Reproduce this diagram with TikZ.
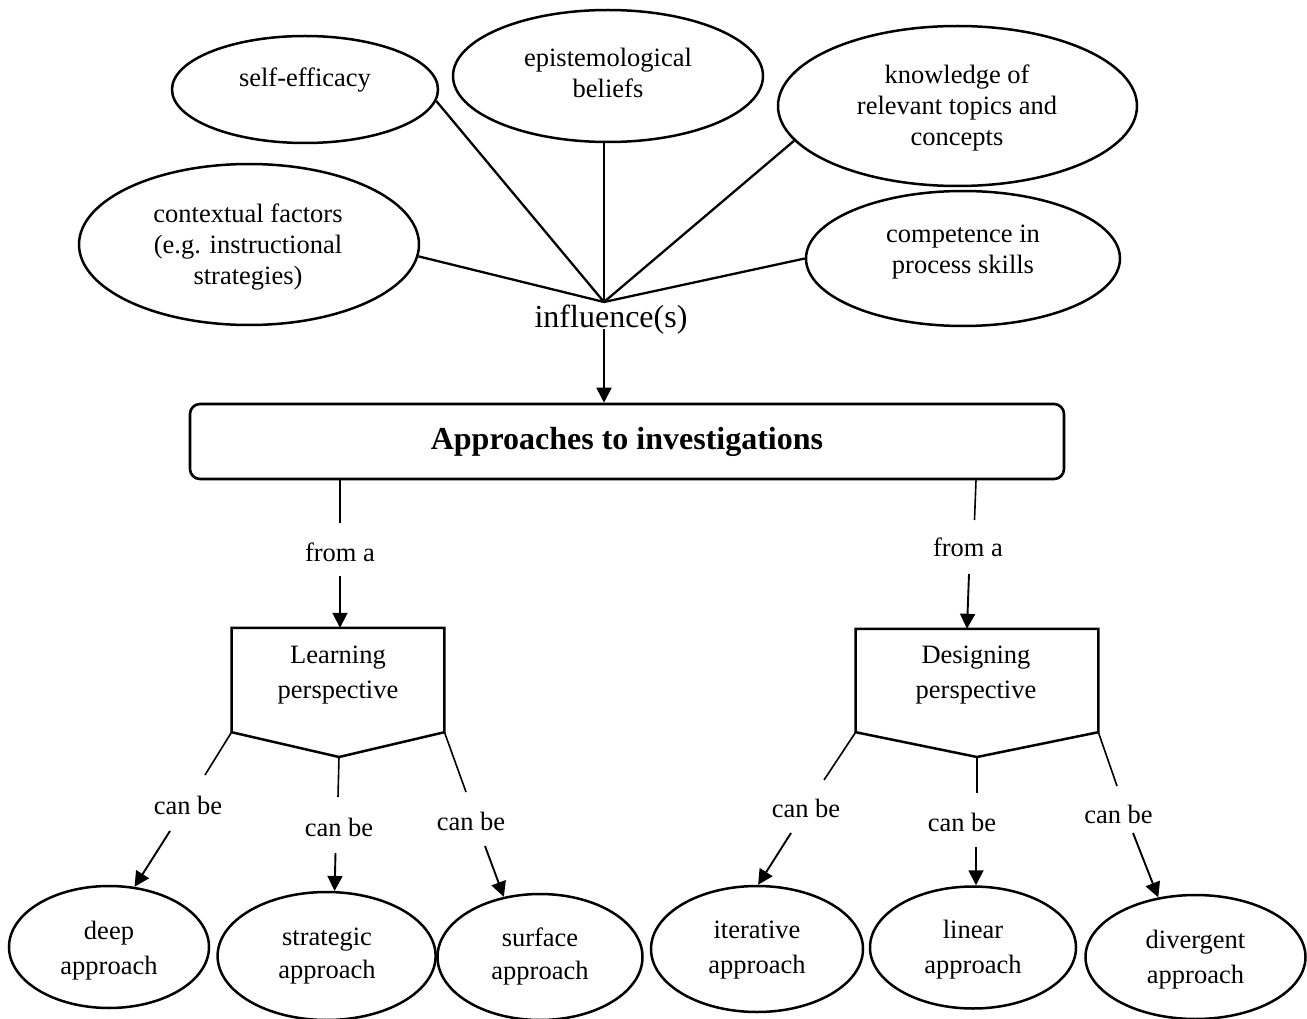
\documentclass[tikz,border=0pt]{standalone}
\usepackage{fontspec}
\setmainfont{Liberation Serif}
\usetikzlibrary{shapes.geometric,arrows.meta,calc}
\begin{document}
\begin{tikzpicture}[x=1pt,y=-1pt,
  oval/.style={draw, ellipse, line width=2.5pt, inner sep=0pt},
  lbl/.style={font=\fontsize{26.5}{31}\selectfont, align=center, inner sep=0pt},
  lbllow/.style={font=\fontsize{26.5}{35}\selectfont, align=center, inner sep=0pt},
  spoke/.style={line width=2.3pt},
  link/.style={line width=1.6pt},
  arr/.style={line width=1.9pt, -{Triangle[length=15pt,width=15pt]}},
  shapeline/.style={line width=2.5pt, line join=miter},
  frame/.style={inner sep=0pt}]
\useasboundingbox (0,0) rectangle (1307,1019);

% influencing factors
\node[oval, minimum width=266pt, minimum height=107pt] (se) at (305,89.5) {};
\node[lbl] (se-t) at (305,80) {self-efficacy};
\node[oval, minimum width=310pt, minimum height=132pt] (ep) at (608,76) {};
\node[lbl] (ep-t) at (608,72.5) {epistemological\\beliefs};
\node[oval, minimum width=359pt, minimum height=160pt] (kn) at (957.5,106) {};
\node[lbl] (kn-t) at (957,108) {knowledge of\\relevant topics and\\concepts};
\node[oval, minimum width=340pt, minimum height=161pt] (cf) at (249,244.5) {};
\node[lbl] (cf-t) at (248,247) {contextual factors\\(e.g. instructional\\strategies)};
\node[oval, minimum width=314pt, minimum height=135pt] (cp) at (963,258.5) {};
\node[lbl] (cp-t) at (963,252.5) {competence in\\process skills};

% hub of the spokes
\coordinate (hub) at (604,302);
\draw[spoke] (hub) -- (se.-5);
\draw[spoke] (hub) -- (hub |- ep.south);
\draw[spoke] (hub) -- (kn.192);
\draw[spoke] (hub) -- (cf.-4);
\draw[spoke] (hub) -- (cp.west);

\node[inner sep=0pt, font=\fontsize{32}{36}\selectfont] (infl) at (611,320) {influence(s)};

% central box
\node[draw, rounded corners=10pt, line width=2.6pt, minimum width=874pt, minimum height=75pt,
      font=\bfseries\fontsize{32}{36}\selectfont] (apr) at (627,441.5) {Approaches to investigations};
\draw[arr] ($(infl.south -| hub)+(0,-6)$) -- (apr.north -| hub);

% left branch: learning perspective
\coordinate (Lx) at (340,0);
\coordinate (fromL-in) at (340,523);
\coordinate (fromL-out) at (340,576);
\node[lbl] (fromL) at (340,552) {from a};
\draw[link] (Lx |- apr.south) -- (fromL-in);

\node[frame, minimum width=212.5pt, minimum height=104pt] (lrn) at (338,680) {};
\coordinate (lrn-tip) at (339,757);
\draw[shapeline] (lrn.north west) -- (lrn.north east) -- (lrn.south east) -- (lrn-tip) -- (lrn.south west) -- cycle;
\node[lbllow] (lrn-t) at (338,675) {Learning\\perspective};
\draw[arr] (fromL-out) -- (fromL-out |- lrn.north);

% right branch: designing perspective
\coordinate (Rx) at (976,0);
\coordinate (fromR-in) at (974.5,520);
\coordinate (fromR-out) at (969,574);
\node[lbl] (fromR) at (968,547) {from a};
\draw[link] (Rx |- apr.south) -- (fromR-in);

\node[frame, minimum width=242.3pt, minimum height=103pt] (dsg) at (977,680.5) {};
\coordinate (dsg-tip) at (977,757);
\draw[shapeline] (dsg.north west) -- (dsg.north east) -- (dsg.south east) -- (dsg-tip) -- (dsg.south west) -- cycle;
\node[lbllow] (dsg-t) at (976,675) {Designing\\perspective};
\draw[arr] (fromR-out) -- ($(dsg.north)+(-10,0)$);

% approaches of the learning perspective
\node[oval, minimum width=200pt, minimum height=122pt] (deep) at (109,947) {};
\node[lbllow] (deep-t) at (109,950.5) {deep\\approach};
\node[oval, minimum width=218pt, minimum height=128pt] (strat) at (326.6,956) {};
\node[lbllow, font=\fontsize{26.5}{33}\selectfont] (strat-t) at (327,956.5) {strategic\\approach};
\node[oval, minimum width=205pt, minimum height=126pt] (surf) at (540,957) {};
\node[lbllow, font=\fontsize{26.5}{33}\selectfont] (surf-t) at (540,956.5) {surface\\approach};

\coordinate (a1s) at (205,775); \coordinate (a1e) at (170,831);
\node[lbl] (cb1) at (188,805) {can be};
\draw[link] (lrn.south west) -- (a1s);
\draw[arr] (a1e) -- (deep.67);

\coordinate (a2s) at (338,797); \coordinate (a2e) at (335.5,853);
\node[lbl] (cb2) at (339,827) {can be};
\draw[link] (lrn-tip) -- (a2s);
\draw[arr] (a2e) -- (strat.83);

\coordinate (a3s) at (466,792); \coordinate (a3e) at (485,846);
\node[lbl] (cb3) at (471,821) {can be};
\draw[link] (lrn.south east) -- (a3s);
\draw[arr] (a3e) -- (surf.121);

% approaches of the designing perspective
\node[oval, minimum width=212pt, minimum height=126pt] (iter) at (757,949) {};
\node[lbllow] (iter-t) at (757,950.5) {iterative\\approach};
\node[oval, minimum width=206pt, minimum height=122pt] (lin) at (973,947.5) {};
\node[lbllow] (lin-t) at (973,950) {linear\\approach};
\node[oval, minimum width=220pt, minimum height=124pt] (div) at (1195.5,957) {};
\node[lbllow] (div-t) at (1195.5,959.5) {divergent\\approach};

\coordinate (b1s) at (824,780); \coordinate (b1e) at (791,833);
\node[lbl] (cb4) at (806,808) {can be};
\draw[link] (dsg.south west) -- (b1s);
\draw[arr] (b1e) -- (iter.89);

\coordinate (b2s) at (977,793); \coordinate (b2e) at (976,847);
\node[lbl] (cb5) at (962,822) {can be};
\draw[link] (dsg-tip) -- (b2s);
\draw[arr] (b2e) -- (b2e |- lin.north);

\coordinate (b3s) at (1117,786); \coordinate (b3e) at (1133,833);
\node[lbl] (cb6) at (1118.5,814) {can be};
\draw[link] (dsg.south east) -- (b3s);
\draw[arr] (b3e) -- (div.122);
\end{tikzpicture}
\end{document}
